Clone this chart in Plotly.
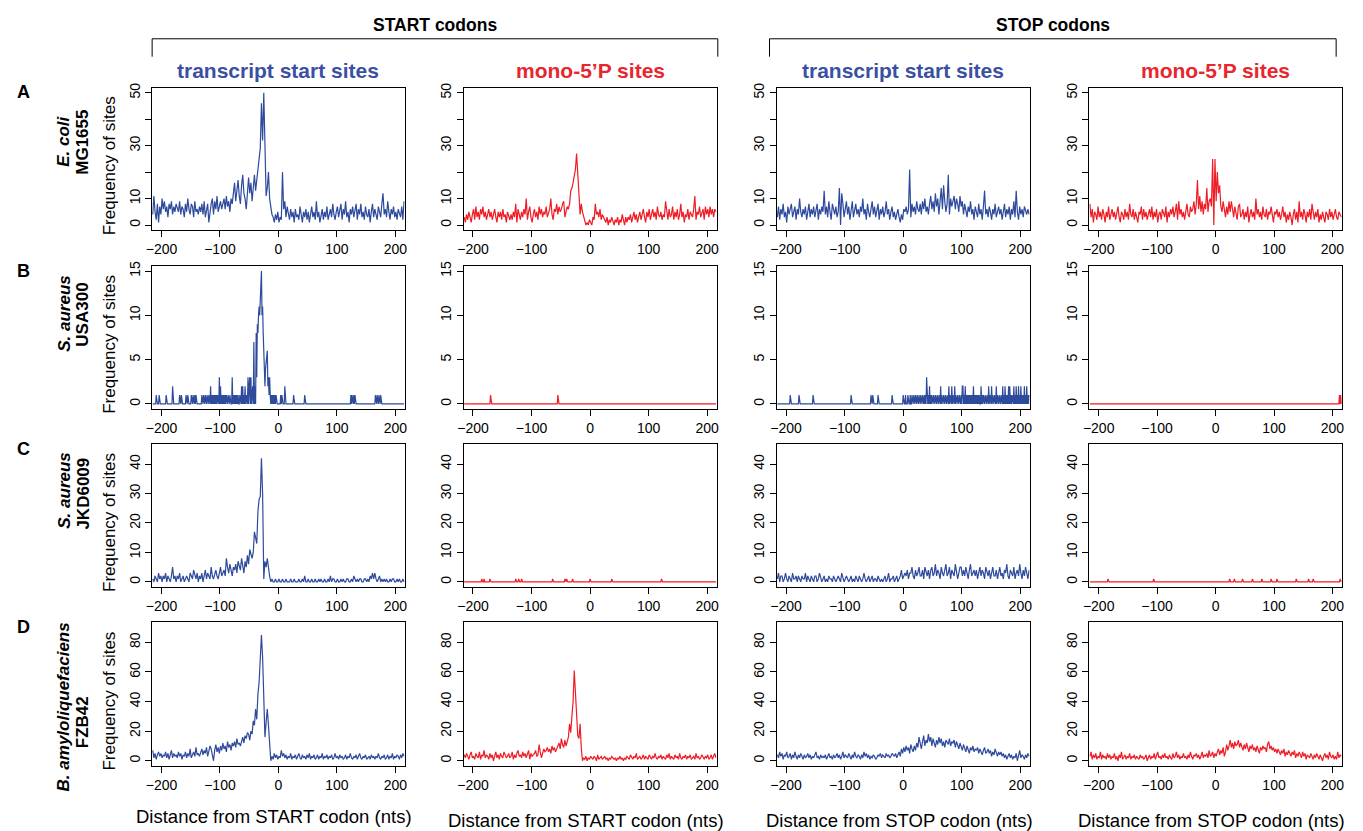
import plotly.graph_objects as go

W, H = 1363, 831
BLUE = '#2e4a9c'
RED = '#ee1c25'
HDR_BLUE = '#3a50a2'
HDR_RED = '#e8262d'
FONT = 'Liberation Sans, Arial, Helvetica, sans-serif'

# ---------------- data ----------------
# dense series sampled every 2 nt from -215 to 215 (216 values each)
X_POS = list(range(-215, 216, 2))
# sparse series: every nt from -215 to 215, zero except the listed sites
X_ALL = list(range(-215, 216))

ecoli_tss_start = [
    4, 11, 5, 2, 8, 1, 7, 4, 10, 6,
    9, 5, 7, 3, 8, 6, 9, 4, 7, 5,
    8, 6, 5, 9, 4, 7, 6, 3, 8, 5,
    10, 6, 4, 8, 7, 3, 9, 5, 6, 4,
    7, 5, 8, 4, 9, 3, 6, 8, 1, 5,
    8, 10, 4, 9, 6, 11, 5, 7, 9, 6,
    8, 10, 6, 11, 7, 9, 5, 10, 8, 12,
    16, 9, 13, 17, 11, 8, 15, 19, 12, 10,
    6, 14, 18, 12, 16, 9, 15, 19, 13, 17,
    20, 24, 29, 46, 32, 50, 34, 11, 14, 20,
    10, 6, 4, 3, 1, 4, 2, 5, 1, 3,
    2, 20, 6, 9, 3, 7, 4, 2, 6, 3,
    5, 1, 6, 3, 4, 2, 7, 3, 1, 5,
    3, 6, 2, 5, 1, 4, 7, 3, 5, 2,
    9, 3, 5, 1, 4, 6, 2, 5, 3, 7,
    2, 4, 6, 3, 8, 4, 2, 5, 7, 3,
    5, 8, 2, 6, 4, 9, 3, 5, 1, 6,
    4, 7, 3, 5, 8, 2, 6, 4, 8, 3,
    5, 2, 7, 4, 3, 6, 1, 5, 8, 3,
    6, 4, 2, 7, 5, 3, 8, 12, 4, 6,
    3, 9, 5, 2, 6, 4, 7, 3, 5, 2,
    6, 4, 3, 7, 2, 9,
]
ecoli_mono_start = [
    3, 1, 4, 2, 5, 3, 1, 4, 6, 2,
    7, 3, 5, 2, 6, 4, 7, 3, 5, 2,
    4, 6, 3, 5, 2, 4, 6, 3, 1, 5,
    3, 5, 2, 6, 3, 4, 1, 5, 3, 2,
    4, 2, 5, 3, 8, 1, 6, 4, 2, 5,
    3, 6, 4, 10, 2, 5, 7, 3, 1, 4,
    6, 3, 5, 2, 7, 4, 6, 3, 5, 4,
    7, 3, 5, 6, 10, 4, 2, 6, 5, 8,
    4, 7, 5, 6, 8, 9, 3, 5, 7, 6,
    8, 13, 14, 16, 18, 21, 27, 16, 12, 4,
    8, 5, 3, 1, 0, 1, 0, 2, 1, 0,
    3, 2, 8, 4, 5, 3, 6, 2, 4, 3,
    2, 1, 3, 0, 2, 1, 3, 1, 0, 2,
    1, 3, 0, 2, 1, 4, 2, 0, 3, 1,
    3, 2, 4, 1, 3, 5, 2, 4, 1, 3,
    5, 2, 4, 6, 3, 1, 5, 3, 6, 2,
    4, 6, 3, 5, 2, 7, 4, 3, 5, 2,
    4, 3, 9, 5, 2, 6, 3, 4, 7, 2,
    5, 3, 6, 2, 4, 8, 3, 5, 1, 4,
    3, 6, 2, 5, 4, 3, 6, 11, 2, 5,
    4, 7, 3, 5, 6, 2, 7, 4, 6, 3,
    7, 4, 6, 3, 6, 5,
]
ecoli_tss_stop = [
    3, 7, 2, 6, 4, 8, 3, 5, 1, 7,
    4, 6, 8, 3, 5, 7, 2, 6, 4, 10,
    5, 3, 6, 4, 7, 2, 5, 8, 3, 6,
    4, 7, 3, 5, 8, 2, 6, 4, 7, 5,
    13, 4, 7, 3, 9, 5, 2, 8, 6, 4,
    7, 3, 5, 14, 0, 12, 8, 3, 6, 9,
    4, 7, 2, 6, 9, 3, 5, 8, 4, 6,
    3, 7, 5, 10, 4, 6, 2, 8, 5, 3,
    6, 9, 4, 7, 3, 5, 8, 2, 6, 4,
    7, 3, 5, 9, 4, 6, 2, 5, 7, 3,
    5, 2, 4, 6, 3, 1, 4, 2, 6, 5,
    7, 4, 6, 21, 3, 8, 5, 7, 4, 9,
    6, 5, 8, 4, 9, 6, 10, 5, 7, 4,
    8, 11, 6, 9, 5, 12, 7, 10, 4, 8,
    14, 6, 15, 9, 5, 8, 19, 4, 10, 7,
    9, 11, 6, 10, 8, 5, 11, 7, 9, 4,
    8, 6, 3, 7, 5, 9, 4, 6, 2, 7,
    5, 3, 8, 4, 6, 2, 7, 13, 4, 6,
    3, 7, 5, 2, 6, 4, 8, 3, 5, 7,
    4, 6, 2, 5, 8, 3, 6, 4, 7, 2,
    6, 4, 9, 3, 13, 5, 2, 7, 4, 6,
    3, 7, 5, 4, 6, 4,
]
ecoli_mono_stop = [
    8, 3, 6, 1, 5, 4, 2, 7, 3, 5,
    2, 6, 4, 1, 5, 3, 7, 2, 4, 6,
    3, 5, 2, 4, 7, 3, 1, 5, 4, 2,
    6, 3, 5, 2, 8, 4, 3, 6, 2, 5,
    3, 1, 5, 4, 7, 2, 6, 3, 5, 2,
    4, 6, 3, 7, 2, 5, 3, 6, 1, 4,
    5, 2, 6, 4, 3, 7, 1, 5, 3, 6,
    4, 7, 3, 5, 8, 2, 9, 4, 6, 3,
    5, 2, 6, 8, 4, 3, 7, 5, 6, 9,
    4, 8, 17, 6, 11, 5, 9, 4, 8, 6,
    14, 5, 9, 10, 7, 25, 0, 25, 9, 20,
    12, 15, 7, 5, 9, 6, 3, 7, 4, 9,
    5, 9, 6, 3, 7, 4, 2, 7, 8, 3,
    4, 6, 2, 5, 3, 7, 1, 4, 6, 3,
    5, 2, 10, 4, 6, 3, 5, 2, 7, 4,
    3, 6, 2, 5, 4, 7, 3, 1, 5, 4,
    6, 3, 5, 2, 4, 7, 3, 5, 1, 4,
    2, 5, 3, 0, 4, 6, 2, 5, 1, 9,
    3, 5, 2, 6, 4, 1, 5, 3, 6, 2,
    8, 4, 2, 5, 3, 6, 1, 4, 2, 5,
    3, 1, 5, 4, 2, 6, 3, 5, 2, 4,
    6, 3, 2, 5, 4, 3,
]

# S. aureus USA300 (sparse: position -> frequency)
usa300_tss_start = {
    -209: 1, -204: 1, -192: 1, -181: 2, -169: 1, -166: 1, -158: 1, -155: 1,
    -149: 1, -146: 1, -143: 1, -141: 1, -131: 1, -128: 1, -125: 1, -122: 1,
    -119: 1, -116: 2, -114: 1, -112: 1, -110: 1, -108: 1, -106: 1, -104: 1,
    -101: 3, -99: 2, -97: 1, -95: 1, -93: 1, -91: 1, -89: 1, -86: 1, -83: 1,
    -79: 3, -77: 1, -75: 1, -73: 1, -71: 1, -69: 1, -66: 1, -63: 2, -61: 2,
    -59: 1, -57: 2, -55: 1, -52: 3, -50: 2, -49: 3, -47: 3, -45: 1, -44: 2,
    -42: 7, -40: 2, -38: 8, -37: 3, -36: 9, -35: 8, -34: 10, -33: 11, -32: 10,
    -31: 12, -30: 15, -29: 15, -28: 10, -27: 11, -26: 8, -25: 5, -24: 4,
    -23: 2, -22: 4, -21: 5, -20: 6, -19: 6, -18: 2, -17: 3, -16: 1, -15: 3,
    -14: 1, -12: 1, -10: 1, -8: 1, -6: 1, -4: 1, 4: 1, 6: 1, 11: 2, 26: 1,
    45: 1, 124: 1, 126: 1, 129: 1, 131: 1, 166: 1, 169: 1, 172: 1, 175: 1,
}
usa300_mono_start = {-170: 1, -55: 1}
usa300_tss_stop = {
    -193: 1, -178: 1, -154: 1, -89: 1, -55: 1, -52: 1, -43: 1, -19: 1, 0: 1,
    4: 1, 8: 1, 12: 1, 15: 1, 18: 1, 21: 1, 24: 1, 27: 1, 30: 1, 33: 1, 36: 1,
    38: 1, 40: 3, 41: 2, 43: 1, 45: 2, 47: 1, 49: 1, 52: 1, 55: 1, 58: 1,
    61: 1, 64: 2, 66: 1, 69: 1, 72: 1, 75: 1, 78: 2, 80: 1, 83: 2, 85: 1,
    88: 2, 90: 1, 93: 1, 96: 1, 99: 1, 101: 2, 102: 2, 104: 1, 106: 2, 108: 1,
    110: 1, 112: 1, 114: 1, 116: 1, 118: 1, 120: 2, 122: 1, 124: 1, 126: 1,
    128: 1, 130: 1, 133: 2, 135: 1, 137: 1, 140: 1, 143: 1, 146: 2, 148: 1,
    151: 2, 153: 1, 156: 1, 159: 2, 161: 1, 164: 1, 167: 1, 170: 2, 172: 1,
    174: 2, 176: 1, 178: 1, 180: 2, 182: 2, 184: 1, 186: 1, 189: 2, 191: 1,
    193: 2, 195: 1, 197: 2, 199: 1, 201: 2, 203: 1, 205: 1, 207: 2, 209: 1,
    211: 2, 213: 1, 215: 1,
}
usa300_mono_stop = {212: 1, 214: 1}

# S. aureus JKD6009
jkd_tss_start = [
    1, 0, 2, 1, 0, 3, 1, 2, 0, 2,
    1, 3, 0, 2, 1, 0, 2, 5, 1, 2,
    0, 2, 1, 3, 0, 1, 2, 0, 1, 2,
    1, 0, 3, 2, 1, 4, 2, 1, 3, 0,
    2, 1, 3, 0, 2, 4, 1, 3, 2, 1,
    5, 2, 1, 3, 4, 2, 1, 3, 5, 2,
    3, 4, 2, 8, 5, 3, 6, 4, 2, 5,
    4, 6, 3, 7, 5, 4, 8, 6, 3, 7,
    5, 9, 6, 11, 9, 8, 10, 17, 15, 13,
    24, 28, 29, 42, 30, 1, 7, 5, 8, 4,
    2, 0, 1, 0, 0, 1, 0, 0, 1, 0,
    0, 1, 0, 0, 1, 0, 0, 0, 1, 0,
    0, 1, 0, 0, 0, 1, 0, 0, 1, 0,
    2, 0, 0, 1, 0, 0, 1, 0, 0, 1,
    0, 0, 1, 0, 1, 0, 0, 1, 0, 0,
    1, 0, 2, 0, 1, 1, 0, 0, 1, 0,
    0, 1, 0, 1, 0, 0, 1, 1, 0, 0,
    1, 0, 2, 1, 0, 1, 0, 1, 1, 0,
    0, 1, 1, 0, 1, 0, 2, 1, 3, 1,
    3, 1, 0, 1, 2, 0, 1, 0, 1, 0,
    1, 0, 0, 1, 0, 1, 1, 0, 0, 1,
    0, 1, 0, 0, 1, 0,
]
jkd_mono_start = {
    -185: 1, -181: 1, -171: 1, -127: 1, -122: 1, -117: 1, -64: 1, -43: 1,
    -40: 1, -30: 1, 0: 1, 37: 1, 122: 1,
}
jkd_tss_stop = [
    1, 3, 0, 2, 2, 0, 1, 3, 1, 0,
    2, 1, 0, 3, 1, 1, 2, 0, 2, 1,
    0, 2, 1, 1, 3, 0, 2, 1, 0, 2,
    1, 0, 2, 2, 0, 1, 3, 1, 0, 1,
    2, 0, 1, 0, 2, 1, 1, 0, 2, 1,
    0, 1, 2, 1, 0, 3, 1, 0, 1, 2,
    1, 0, 1, 2, 0, 1, 0, 2, 1, 0,
    2, 1, 0, 1, 3, 1, 0, 1, 2, 0,
    1, 2, 0, 1, 1, 0, 2, 1, 0, 1,
    0, 1, 2, 0, 1, 3, 0, 1, 1, 2,
    0, 1, 2, 0, 1, 2, 4, 1, 2, 3,
    2, 4, 1, 3, 3, 5, 2, 1, 4, 2,
    3, 5, 2, 2, 4, 1, 5, 3, 2, 4,
    1, 4, 5, 2, 3, 6, 2, 4, 3, 1,
    5, 3, 2, 4, 6, 2, 3, 5, 1, 4,
    3, 2, 6, 4, 1, 3, 5, 5, 2, 4,
    2, 5, 3, 1, 4, 6, 2, 3, 4, 2,
    4, 1, 3, 5, 2, 4, 3, 1, 5, 3,
    2, 4, 1, 3, 5, 2, 2, 4, 1, 3,
    5, 2, 3, 1, 4, 3, 6, 2, 1, 4,
    3, 2, 5, 1, 3, 4, 2, 6, 3, 1,
    4, 2, 5, 3, 1, 4,
]
jkd_mono_stop = {
    -184: 1, -106: 1, 24: 1, 32: 1, 46: 1, 63: 1, 79: 1, 95: 1, 105: 1,
    138: 1, 159: 1, 167: 1, 213: 1,
}

# B. amyloliquefaciens FZB42
fzb_tss_start = [
    7, 2, 5, 1, 4, 6, 3, 5, 2, 4,
    3, 6, 2, 5, 1, 4, 7, 2, 5, 3,
    4, 2, 6, 3, 5, 1, 4, 3, 6, 2,
    5, 3, 8, 2, 4, 6, 3, 9, 4, 5,
    3, 6, 8, 4, 7, 5, 9, 3, 6, 10,
    8, 4, 0, 7, 11, 6, 9, 5, 10, 7,
    12, 8, 10, 6, 13, 9, 11, 7, 12, 10,
    13, 9, 15, 11, 12, 10, 14, 16, 12, 17,
    15, 19, 18, 14, 20, 18, 27, 24, 35, 28,
    45, 53, 69, 85, 70, 44, 16, 26, 35, 24,
    8, 0, 3, 1, 5, 2, 4, 1, 3, 2,
    7, 3, 5, 2, 4, 1, 3, 2, 5, 1,
    3, 2, 4, 1, 3, 5, 2, 1, 4, 2,
    3, 1, 4, 2, 5, 1, 3, 2, 4, 1,
    2, 4, 1, 3, 2, 5, 1, 3, 2, 4,
    1, 3, 2, 4, 1, 2, 5, 2, 3, 1,
    4, 2, 3, 1, 2, 4, 1, 3, 2, 5,
    2, 1, 3, 2, 4, 1, 3, 5, 2, 1,
    3, 2, 4, 1, 2, 3, 1, 4, 2, 3,
    1, 3, 2, 5, 2, 1, 3, 2, 4, 1,
    2, 4, 1, 3, 2, 5, 1, 3, 2, 4,
    3, 1, 4, 2, 5, 3,
]
fzb_mono_start = [
    4, 2, 5, 3, 1, 4, 6, 2, 3, 1,
    5, 3, 2, 6, 1, 4, 3, 7, 2, 4,
    3, 1, 5, 2, 4, 0, 3, 6, 2, 4,
    1, 5, 3, 2, 6, 4, 2, 3, 5, 2,
    3, 6, 1, 4, 2, 5, 7, 3, 4, 2,
    6, 3, 5, 2, 4, 7, 1, 5, 3, 4,
    5, 7, 3, 4, 11, 6, 2, 5, 8, 6,
    7, 9, 6, 8, 5, 10, 7, 9, 6, 8,
    10, 12, 8, 15, 11, 9, 14, 10, 13, 16,
    25, 19, 30, 40, 61, 46, 27, 17, 15, 25,
    9, 0, 2, 1, 3, 0, 2, 1, 3, 2,
    1, 3, 2, 0, 4, 1, 2, 3, 1, 2,
    3, 1, 2, 0, 2, 1, 3, 2, 1, 2,
    0, 2, 1, 3, 1, 2, 0, 2, 1, 3,
    2, 1, 4, 2, 1, 3, 2, 5, 1, 2,
    3, 1, 2, 4, 1, 3, 2, 1, 4, 2,
    1, 3, 2, 5, 2, 1, 3, 2, 4, 1,
    3, 2, 1, 4, 2, 5, 1, 3, 2, 1,
    4, 2, 3, 1, 5, 2, 1, 3, 2, 4,
    1, 3, 2, 4, 1, 2, 3, 1, 5, 2,
    3, 1, 2, 4, 2, 1, 3, 2, 4, 1,
    2, 4, 1, 3, 5, 2,
]
fzb_tss_stop = [
    4, 2, 6, 3, 5, 1, 4, 3, 6, 2,
    3, 5, 1, 4, 2, 6, 3, 1, 4, 2,
    5, 3, 1, 4, 2, 3, 5, 2, 4, 1,
    3, 2, 4, 6, 2, 3, 1, 4, 2, 3,
    2, 4, 1, 3, 5, 2, 3, 1, 4, 2,
    3, 5, 2, 4, 1, 3, 6, 2, 4, 3,
    2, 5, 3, 1, 4, 2, 6, 3, 2, 4,
    3, 1, 4, 2, 6, 3, 5, 2, 4, 1,
    3, 2, 4, 3, 1, 2, 4, 3, 5, 2,
    4, 3, 2, 5, 3, 4, 2, 3, 5, 4,
    3, 5, 2, 4, 6, 3, 8, 5, 9, 6,
    10, 7, 9, 5, 11, 8, 6, 10, 7, 12,
    9, 16, 11, 8, 13, 17, 10, 14, 12, 18,
    13, 16, 10, 15, 12, 9, 14, 11, 16, 12,
    15, 10, 13, 9, 14, 12, 11, 15, 10, 13,
    12, 14, 9, 13, 11, 8, 12, 10, 7, 11,
    9, 6, 10, 8, 5, 9, 7, 10, 6, 8,
    7, 9, 5, 8, 6, 4, 7, 9, 5, 6,
    8, 5, 7, 3, 6, 4, 8, 5, 3, 6,
    4, 6, 3, 5, 2, 4, 1, 3, 5, 2,
    4, 1, 3, 2, 5, 0, 3, 7, 2, 4,
    3, 1, 4, 2, 5, 3,
]
fzb_mono_stop = [
    3, 6, 1, 4, 2, 5, 1, 3, 2, 6,
    1, 4, 2, 3, 1, 5, 2, 4, 1, 3,
    2, 5, 1, 3, 0, 4, 2, 6, 1, 3,
    4, 1, 3, 2, 5, 1, 3, 2, 4, 1,
    3, 2, 1, 4, 2, 3, 1, 2, 4, 0,
    2, 4, 1, 3, 2, 5, 1, 3, 6, 2,
    3, 1, 4, 2, 5, 2, 3, 1, 4, 2,
    1, 5, 2, 3, 6, 2, 4, 1, 3, 2,
    5, 2, 3, 1, 4, 2, 6, 3, 1, 4,
    3, 5, 2, 4, 1, 3, 6, 2, 4, 3,
    5, 2, 7, 3, 4, 6, 2, 5, 3, 6,
    8, 4, 7, 5, 9, 3, 6, 11, 7, 10,
    14, 9, 12, 8, 13, 10, 11, 14, 9, 12,
    10, 7, 11, 8, 12, 9, 6, 10, 8, 11,
    7, 9, 6, 10, 8, 5, 9, 7, 10, 8,
    9, 6, 11, 13, 8, 10, 7, 9, 6, 8,
    5, 8, 6, 4, 7, 5, 8, 3, 6, 4,
    7, 5, 3, 6, 4, 7, 2, 5, 3, 6,
    4, 2, 6, 3, 5, 1, 4, 3, 2, 5,
    3, 1, 4, 2, 5, 3, 1, 4, 2, 0,
    3, 5, 2, 4, 1, 6, 3, 2, 4, 1,
    3, 1, 6, 2, 4, 3,
]

ROW_YMAX = [50, 15, 45, 90]
ROW_YTICKS = [[0, 10, 20, 30, 40, 50], [0, 5, 10, 15], [0, 10, 20, 30, 40], [0, 20, 40, 60, 80]]
ROW_YLABELS = [['0', '10', '', '30', '', '50'], ['0', '5', '10', '15'],
               ['0', '10', '20', '30', '40'], ['0', '20', '40', '60', '80']]
X_TICKS = [-200, -100, 0, 100, 200]

ROW_LETTERS = ['A', 'B', 'C', 'D']
SPECIES = [('E. coli', 'MG1655'), ('S. aureus', 'USA300'),
           ('S. aureus', 'JKD6009'), ('B. amyloliquefaciens', 'FZB42')]
COL_HEADERS = ['transcript start sites', 'mono-5’P sites', 'transcript start sites', 'mono-5’P sites']
XTITLES = ['Distance from START codon (nts)', 'Distance from START codon (nts)',
           'Distance from STOP codon (nts)', 'Distance from STOP codon (nts)']


def sparse(d):
    return [d.get(x, 0) for x in X_ALL]


PANELS = [
    [(X_POS, ecoli_tss_start), (X_POS, ecoli_mono_start), (X_POS, ecoli_tss_stop), (X_POS, ecoli_mono_stop)],
    [(X_ALL, sparse(usa300_tss_start)), (X_ALL, sparse(usa300_mono_start)),
     (X_ALL, sparse(usa300_tss_stop)), (X_ALL, sparse(usa300_mono_stop))],
    [(X_POS, jkd_tss_start), (X_ALL, sparse(jkd_mono_start)), (X_POS, jkd_tss_stop), (X_ALL, sparse(jkd_mono_stop))],
    [(X_POS, fzb_tss_start), (X_POS, fzb_mono_start), (X_POS, fzb_tss_stop), (X_POS, fzb_mono_stop)],
]
COL_COLORS = [BLUE, RED, BLUE, RED]

# ---------------- layout geometry (pixels) ----------------
COL_PX = [(147, 401), (460.3, 714.7), (775.3, 1029.7), (1089.7, 1343.7)]
ROW_PX = [(83, 226.7), (262.3, 406.7), (441.7, 585.7), (621, 765.7)]


def fx(px):
    return px / W


def fy(py):
    return 1 - py / H


def ann(text, px, py, size, color='black', angle=0):
    return dict(text=text, x=fx(px), y=fy(py), xref='paper', yref='paper',
                xanchor='center', yanchor='middle', showarrow=False,
                textangle=angle, font=dict(family=FONT, size=size, color=color))


fig = go.Figure()
layout = dict(
    width=W, height=H, autosize=False,
    margin=dict(l=0, r=0, t=0, b=0),
    paper_bgcolor='white', plot_bgcolor='white',
    showlegend=False,
    font=dict(family=FONT, color='black', size=14),
)
annotations = []
shapes = []

k = 0
for r in range(4):
    ymax = ROW_YMAX[r]
    for c in range(4):
        k += 1
        xs, ys = PANELS[r][c]
        sfx = '' if k == 1 else str(k)
        fig.add_trace(go.Scatter(
            x=xs, y=ys, mode='lines',
            line=dict(color=COL_COLORS[c], width=1.2),
            xaxis='x' + sfx, yaxis='y' + sfx, hoverinfo='skip'))
        x0, x1 = COL_PX[c]
        y0, y1 = ROW_PX[r]
        layout['xaxis' + sfx] = dict(
            domain=[fx(x0), fx(x1)], anchor='y' + sfx,
            range=[-216, 216], tickvals=X_TICKS,
            ticks='outside', ticklen=6, tickwidth=1, tickcolor='black',
            showline=True, mirror=True, linecolor='black', linewidth=1,
            showgrid=False, zeroline=False,
            tickfont=dict(family=FONT, size=14, color='black'),
        )
        layout['yaxis' + sfx] = dict(
            domain=[fy(y1), fy(y0)], anchor='x' + sfx,
            range=[-0.04 * ymax, 1.04 * ymax],
            tickvals=ROW_YTICKS[r], ticktext=ROW_YLABELS[r],
            tickangle=-90,
            ticks='outside', ticklen=6, tickwidth=1, tickcolor='black',
            showline=True, mirror=True, linecolor='black', linewidth=1,
            showgrid=False, zeroline=False,
            tickfont=dict(family=FONT, size=14, color='black'),
        )

    yc = (ROW_PX[r][0] + ROW_PX[r][1]) / 2
    annotations.append(ann('<b>%s</b>' % ROW_LETTERS[r], 18, ROW_PX[r][0] + 5, 18))
    annotations.append(ann('Frequency of sites', 104, yc + 7, 17, angle=-90))

# species labels: italic species name and strain, each as its own rotated line
SPECIES_Y = [(137, 138), (310, 312), (488, 492), (706, 722)]
for r in range(4):
    sp, strain = SPECIES[r]
    ys1, ys2 = SPECIES_Y[r]
    annotations.append(ann('<b><i>%s</i></b>' % sp, 58, ys1, 17, angle=-90))
    annotations.append(ann('<b>%s</b>' % strain, 77, ys2, 17, angle=-90))

# column headers and x titles
XT_Y = [816, 820, 820, 820]
for c in range(4):
    xc = (COL_PX[c][0] + COL_PX[c][1]) / 2
    col = HDR_BLUE if c % 2 == 0 else HDR_RED
    annotations.append(ann('<b>%s</b>' % COL_HEADERS[c], xc, 66, 21, color=col))
    annotations.append(ann(XTITLES[c], xc - 4, XT_Y[c], 18.5))

# group titles with brackets
for title, xa, xb in [('START codons', 147, 716), ('STOP codons', 768, 1338)]:
    annotations.append(ann('<b>%s</b>' % title, (xa + xb) / 2, 20, 17.5))
    for (p0, q0, p1, q1) in [(xa, 34, xb, 34), (xa, 34, xa, 52), (xb, 34, xb, 52)]:
        shapes.append(dict(type='line', xref='paper', yref='paper',
                           x0=fx(p0), y0=fy(q0), x1=fx(p1), y1=fy(q1),
                           line=dict(color='black', width=1)))

layout['annotations'] = annotations
layout['shapes'] = shapes
fig.update_layout(**layout)
fig.write_html('out.html', config={'displayModeBar': False},
               post_script="document.body.style.margin='0px';")
